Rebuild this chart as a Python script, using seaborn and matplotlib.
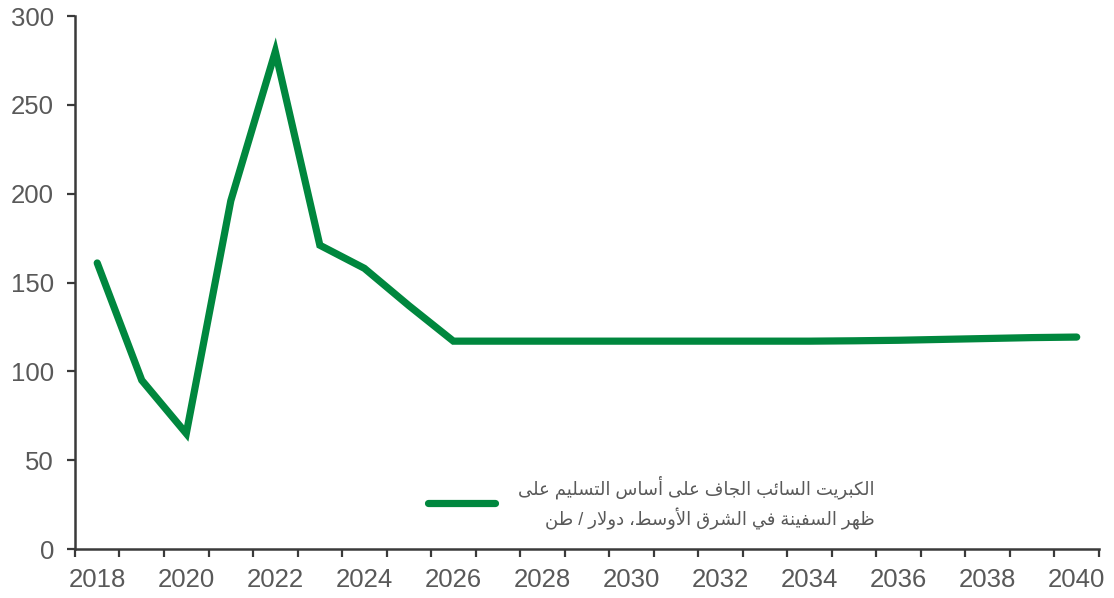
import matplotlib
matplotlib.use("Agg")
import matplotlib.pyplot as plt
from matplotlib.ticker import FixedLocator
import seaborn as sns
import pandas as pd

# Sulphur price series, USD per tonne
years = list(range(2018, 2041))
prices = [161, 95, 65, 196, 280, 171, 158, 137, 117, 117, 117, 117, 117, 117,
          117, 117, 117, 117.2, 117.5, 118, 118.5, 119, 119.3]
label_lines = ["الكبريت السائب الجاف على أساس التسليم على",
               "ظهر السفينة في الشرق الأوسط، دولار / طن"]
y_ticks = [0, 50, 100, 150, 200, 250, 300]
x_labels = list(range(2018, 2041, 2))

# Arabic contextual forms: isolated, final, initial, medial
FORMS = {
    "ا": ("\uFE8D", "\uFE8E", None, None),
    "أ": ("\uFE83", "\uFE84", None, None),
    "ب": ("\uFE8F", "\uFE90", "\uFE91", "\uFE92"),
    "ة": ("\uFE93", "\uFE94", None, None),
    "ت": ("\uFE95", "\uFE96", "\uFE97", "\uFE98"),
    "ج": ("\uFE9D", "\uFE9E", "\uFE9F", "\uFEA0"),
    "د": ("\uFEA9", "\uFEAA", None, None),
    "ر": ("\uFEAD", "\uFEAE", None, None),
    "س": ("\uFEB1", "\uFEB2", "\uFEB3", "\uFEB4"),
    "ش": ("\uFEB5", "\uFEB6", "\uFEB7", "\uFEB8"),
    "ط": ("\uFEC1", "\uFEC2", "\uFEC3", "\uFEC4"),
    "ظ": ("\uFEC5", "\uFEC6", "\uFEC7", "\uFEC8"),
    "ع": ("\uFEC9", "\uFECA", "\uFECB", "\uFECC"),
    "ف": ("\uFED1", "\uFED2", "\uFED3", "\uFED4"),
    "ق": ("\uFED5", "\uFED6", "\uFED7", "\uFED8"),
    "ك": ("\uFED9", "\uFEDA", "\uFEDB", "\uFEDC"),
    "ل": ("\uFEDD", "\uFEDE", "\uFEDF", "\uFEE0"),
    "م": ("\uFEE1", "\uFEE2", "\uFEE3", "\uFEE4"),
    "ن": ("\uFEE5", "\uFEE6", "\uFEE7", "\uFEE8"),
    "ه": ("\uFEE9", "\uFEEA", "\uFEEB", "\uFEEC"),
    "و": ("\uFEED", "\uFEEE", None, None),
    "ى": ("\uFEEF", "\uFEF0", "\uFBE8", "\uFBE9"),
    "ي": ("\uFEF1", "\uFEF2", "\uFEF3", "\uFEF4"),
    "ئ": ("\uFE89", "\uFE8A", "\uFE8B", "\uFE8C"),
}
LAM_ALEF = {"ا": ("\uFEFB", "\uFEFC"), "أ": ("\uFEF7", "\uFEF8")}


def shape_rtl(text):
    """Join Arabic letters into their contextual forms and order them for LTR drawing."""
    units, i = [], 0
    while i < len(text):
        c = text[i]
        if c == "ل" and i + 1 < len(text) and text[i + 1] in LAM_ALEF:
            units.append(("LA", text[i + 1]))
            i += 2
        else:
            units.append(("C", c))
            i += 1

    def links_forward(u):
        kind, c = u
        return kind == "C" and c in FORMS and FORMS[c][2] is not None

    def links_back(u):
        kind, c = u
        return kind == "LA" or c in FORMS

    out = []
    for k, u in enumerate(units):
        prev = units[k - 1] if k > 0 else None
        nxt = units[k + 1] if k + 1 < len(units) else None
        p = prev is not None and links_forward(prev) and links_back(u)
        n = nxt is not None and links_forward(u) and links_back(nxt)
        kind, c = u
        if kind == "LA":
            out.append(LAM_ALEF[c][1 if p else 0])
        elif c in FORMS:
            iso, fin, ini, med = FORMS[c]
            out.append(med if (p and n) else fin if p else ini if n else iso)
        else:
            out.append(c)
    return "".join(reversed(out))


sns.set_theme(style="white")
plt.rcParams["font.family"] = ["Liberation Sans", "DejaVu Sans"]

df = pd.DataFrame({"year": years, "price": prices})
legend_label = "\n".join(shape_rtl(s) for s in label_lines)

fig = plt.figure(figsize=(11.14, 5.98), dpi=100)
ax = fig.add_axes([0.0673, 0.0819, 0.9192, 0.8913])

green = "#00873E"
grey_text = "#595959"
axis_col = "#3a3a3a"

sns.lineplot(data=df, x="year", y="price", ax=ax, color=green, linewidth=5.2,
             label=legend_label, solid_joinstyle="miter", solid_capstyle="round")

ax.set_xlim(2017.5, 2040.5)
ax.set_ylim(0, 300)
ax.set_yticks(y_ticks)
ax.set_xticks(x_labels)
ax.set_xticklabels([str(y) for y in x_labels])
ax.xaxis.set_minor_locator(FixedLocator([y - 0.5 for y in years] + [2040.5]))
ax.set_xlabel("")
ax.set_ylabel("")

for side in ("top", "right"):
    ax.spines[side].set_visible(False)
for side in ("left", "bottom"):
    ax.spines[side].set_color(axis_col)
    ax.spines[side].set_linewidth(1.8)

ax.tick_params(axis="x", which="major", length=0, pad=14, labelsize=18.5,
               labelcolor=grey_text)
ax.tick_params(axis="x", which="minor", length=6, width=1.6, color=axis_col,
               direction="out", bottom=True)
ax.tick_params(axis="y", which="major", length=6, width=1.6, color=axis_col,
               direction="out", left=True, pad=9, labelsize=18.5,
               labelcolor=grey_text)

leg = ax.legend(loc="center", bbox_to_anchor=(0.563, 0.087), frameon=False,
                fontsize=13, handlelength=3.7, handletextpad=1.27,
                labelcolor=grey_text)
for t in leg.get_texts():
    t.set_multialignment("right")
    t.set_linespacing(1.5)
for h in leg.get_lines():
    h.set_linewidth(5.2)

fig.savefig("out.png", dpi=100)
